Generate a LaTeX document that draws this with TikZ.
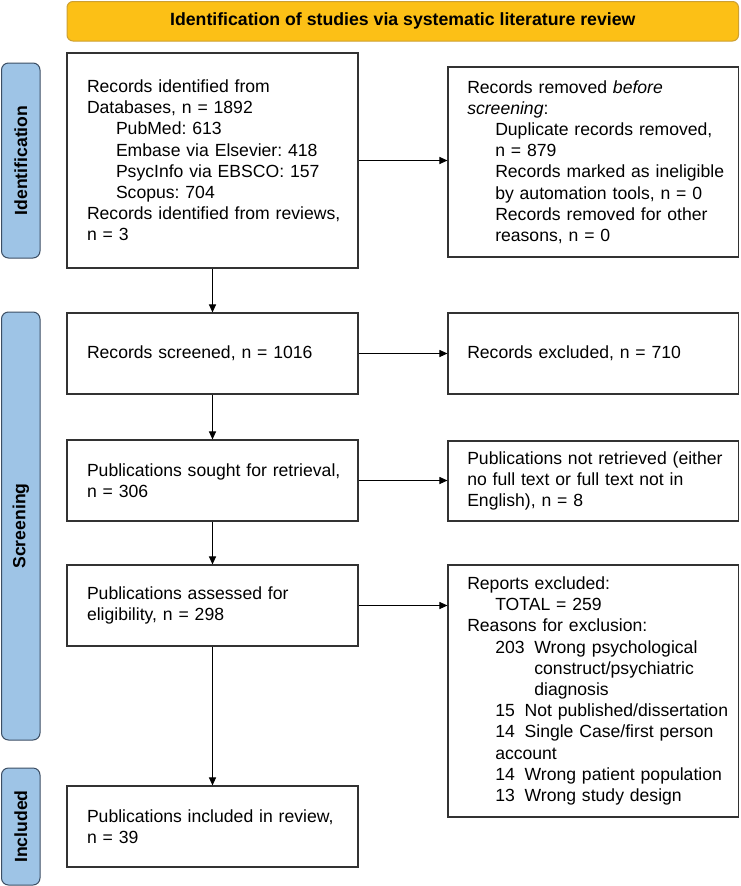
\documentclass[tikz,border=0pt]{standalone}
\usepackage{fontspec}
\setmainfont{Liberation Sans}
\usetikzlibrary{arrows.meta}
\frenchspacing
\definecolor{bannerfill}{RGB}{252,192,22}
\definecolor{bannerdraw}{RGB}{205,160,50}
\definecolor{barfill}{RGB}{158,196,230}
\definecolor{bardraw}{RGB}{60,78,100}
\definecolor{boxdraw}{RGB}{50,50,50}
\begin{document}
\begin{tikzpicture}[x=1pt,y=-1pt,
  every node/.style={font=\fontsize{17.6pt}{21.2pt}\selectfont\frenchspacing},
  box/.style={draw=boxdraw, line width=1.1pt, fill=white, align=left,
    inner xsep=20pt, inner ysep=0pt},
  bar/.style={draw=bardraw, line width=1pt, fill=barfill, rounded corners=7pt,
    rotate=90, inner sep=0pt, font=\fontsize{17.6pt}{21.2pt}\selectfont\bfseries},
  banner/.style={draw=bannerdraw, line width=1pt, fill=bannerfill, rounded corners=6pt,
    inner sep=0pt, font=\fontsize{17.7pt}{21.2pt}\selectfont\bfseries},
  arr/.style={draw=black, line width=1pt, -{Triangle[length=8pt,width=7pt]}}
]
\useasboundingbox (0,0) rectangle (740,886);

% banner
\node[banner, minimum width=671.5pt, minimum height=39.5pt] (ban) at (402.75,21.25)
  {Identification of studies via systematic literature review};

% phase bars
\node[bar, minimum width=195pt, minimum height=38.5pt] (pid) at (20.75,160.5) {Identification};
\node[bar, minimum width=428pt, minimum height=38.5pt] (psc) at (20.75,526) {Screening};
\node[bar, minimum width=117pt, minimum height=38.5pt] (pin) at (20.75,826.5) {Included};

% left column
\node[box, minimum width=291pt, minimum height=215pt, text width=251pt] (b1) at (212.5,160.5)
  {\mbox{Records identified from}\\
   \mbox{Databases, n = 1892}\\
   \hspace*{29pt}\mbox{PubMed: 613}\\
   \hspace*{29pt}\mbox{Embase via Elsevier: 418}\\
   \hspace*{29pt}\mbox{PsycInfo via EBSCO: 157}\\
   \hspace*{29pt}\mbox{Scopus: 704}\\
   \mbox{Records identified from reviews,}\\
   \mbox{n = 3}};
\node[box, minimum width=291pt, minimum height=81pt, text width=251pt] (b2) at (212.5,353.5)
  {\mbox{Records screened, n = 1016}};
\node[box, minimum width=291pt, minimum height=81pt, text width=251pt] (b3) at (212.5,480.5)
  {\mbox{Publications sought for retrieval,}\\ \mbox{n = 306}};
\node[box, minimum width=291pt, minimum height=81pt, text width=251pt] (b4) at (212.5,605.5)
  {\mbox{Publications assessed for}\\ \mbox{eligibility, n = 298}};
\node[box, minimum width=291pt, minimum height=81pt, text width=251pt] (b5) at (212.5,826.5)
  {\mbox{Publications included in review,}\\ \mbox{n = 39}};

% right column
\node[box, minimum width=290.5pt, minimum height=190pt, text width=252pt, inner xsep=19.25pt] (r1) at (593.25,162)
  {\mbox{Records removed \textit{before}}\\
   \mbox{\textit{screening}:}\\
   \hspace*{28pt}\mbox{Duplicate records removed,}\\
   \hspace*{28pt}\mbox{n = 879}\\
   \hspace*{28pt}\mbox{Records marked as ineligible}\\
   \hspace*{28pt}\mbox{by automation tools, n = 0}\\
   \hspace*{28pt}\mbox{Records removed for other}\\
   \hspace*{28pt}\mbox{reasons, n = 0}};
\node[box, minimum width=290.5pt, minimum height=81pt, text width=252pt, inner xsep=19.25pt] (r2) at (593.25,353.5)
  {\mbox{Records excluded, n = 710}};
\node[box, minimum width=290.5pt, minimum height=80pt, text width=252pt, inner xsep=19.25pt] (r3) at (593.25,481)
  {\mbox{Publications not retrieved (either}\\
   \mbox{no full text or full text not in}\\
   \mbox{English), n = 8}};
\node[box, minimum width=290.5pt, minimum height=252pt, text width=252pt, inner xsep=19.25pt] (r4) at (593.25,691)
  {\mbox{Reports excluded:}\\
   \hspace*{28pt}\mbox{TOTAL = 259}\\
   \mbox{Reasons for exclusion:}\\
   \hspace*{28pt}\mbox{203\hspace{0.556em}Wrong psychological}\\
   \hspace*{28pt}\mbox{\phantom{203\hspace{0.556em}}construct/psychiatric}\\
   \hspace*{28pt}\mbox{\phantom{203\hspace{0.556em}}diagnosis}\\
   \hspace*{28pt}\mbox{15\hspace{0.556em}Not published/dissertation}\\
   \hspace*{28pt}\mbox{14\hspace{0.556em}Single Case/first person}\\
   \hspace*{28pt}\mbox{account}\\
   \hspace*{28pt}\mbox{14\hspace{0.556em}Wrong patient population}\\
   \hspace*{28pt}\mbox{13\hspace{0.556em}Wrong study design}};

% connectors
\draw[arr] (b1.south) -- (b2.north);
\draw[arr] (b2.south) -- (b3.north);
\draw[arr] (b3.south) -- (b4.north);
\draw[arr] (b4.south) -- (b5.north);
\draw[arr] (b1.east) -- (b1.east -| r1.west);
\draw[arr] (b2.east) -- (b2.east -| r2.west);
\draw[arr] (b3.east) -- (b3.east -| r3.west);
\draw[arr] (b4.east) -- (b4.east -| r4.west);
\end{tikzpicture}
\end{document}
